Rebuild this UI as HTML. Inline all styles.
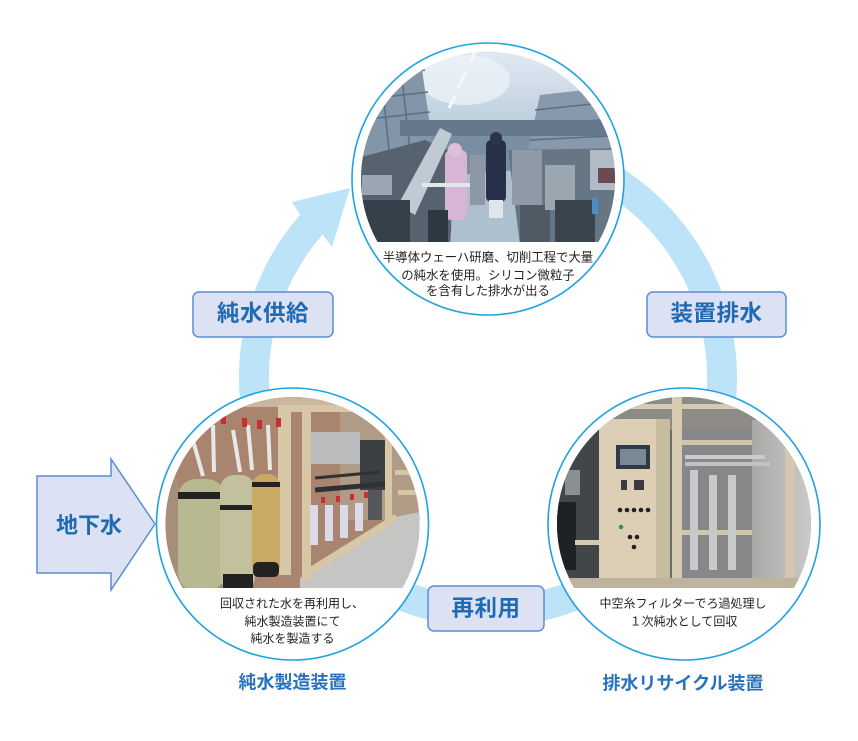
<!DOCTYPE html>
<html><head><meta charset="utf-8">
<style>
html,body{margin:0;padding:0;background:#fff;}
body{width:858px;height:741px;overflow:hidden;}
svg{display:block;}
</style></head>
<body>
<svg width="858" height="741" viewBox="0 0 858 741" xmlns="http://www.w3.org/2000/svg" font-family="'Liberation Sans','Noto Sans CJK JP',sans-serif">
<defs>
  <clipPath id="cTop"><circle cx="488" cy="179" r="127"/></clipPath>
  <clipPath id="rTop"><rect x="350" y="40" width="280" height="202"/></clipPath>
  <clipPath id="cL"><circle cx="292.5" cy="524" r="127"/></clipPath>
  <clipPath id="rL"><rect x="160" y="390" width="270" height="198"/></clipPath>
  <clipPath id="cR"><circle cx="684" cy="524" r="127"/></clipPath>
  <clipPath id="rR"><rect x="550" y="390" width="270" height="198"/></clipPath>
  <linearGradient id="ceil" x1="0" y1="0" x2="0" y2="1">
    <stop offset="0" stop-color="#e6eef6"/><stop offset="1" stop-color="#b9cada"/>
  </linearGradient>
  <linearGradient id="wallR" x1="0" y1="0" x2="1" y2="0">
    <stop offset="0" stop-color="#a9aaa8"/><stop offset="1" stop-color="#cfd0ce"/>
  </linearGradient>
</defs>

<!-- big ring -->
<path d="M311.4,224.5 A234,234 0 1 0 605,175.4" fill="none" stroke="#bce3f7" stroke-width="30"/>
<polygon points="300,214.6 292,202 350,188 332,247 322.7,234.3" fill="#bce3f7"/>

<!-- 地下水 arrow -->
<polygon points="37,476 111,476 111,459 155,524 111,590 111,573 37,573" fill="#dce1f3" stroke="#5b8ed2" stroke-width="1.5"/>
<text x="89" y="533" font-size="22" font-weight="bold" fill="#1e6ab3" text-anchor="middle">地下水</text>

<!-- TOP circle -->
<circle cx="488" cy="179" r="136" fill="#fff" stroke="#1ea2e2" stroke-width="1.6"/>
<g clip-path="url(#cTop)"><g clip-path="url(#rTop)">
  <rect x="350" y="40" width="280" height="205" fill="#7a8ea2"/>
  <polygon points="395,40 600,40 600,100 560,120 510,135 460,135 420,120 395,95" fill="url(#ceil)"/>
  <ellipse cx="465" cy="80" rx="45" ry="25" fill="#eef4f9" opacity="0.7"/>
  <g stroke="#f4f8fb" stroke-width="3"><line x1="478" y1="45" x2="470" y2="62"/><line x1="466" y1="72" x2="458" y2="88"/><line x1="455" y1="96" x2="449" y2="108"/></g>
  <polygon points="355,65 420,55 432,140 355,165" fill="#8396a9"/>
  <g stroke="#5c6e80" stroke-width="1.5"><line x1="360" y1="80" x2="425" y2="70"/><line x1="360" y1="100" x2="428" y2="92"/><line x1="360" y1="120" x2="430" y2="112"/><line x1="380" y1="62" x2="390" y2="160"/><line x1="400" y1="60" x2="410" y2="150"/></g>
  <polygon points="540,95 630,85 630,165 528,150" fill="#8799aa"/>
  <g stroke="#5c6e80" stroke-width="1.5"><line x1="535" y1="110" x2="630" y2="100"/><line x1="530" y1="125" x2="630" y2="118"/><line x1="530" y1="140" x2="630" y2="135"/></g>
  <rect x="400" y="120" width="230" height="16" fill="#66798c"/>
  <polygon points="350,160 425,140 447,150 452,245 350,245" fill="#56636f"/>
  <polygon points="398,205 440,128 452,134 415,215" fill="#c0cad3"/>
  <rect x="360" y="200" width="50" height="45" fill="#36404a"/>
  <rect x="362" y="175" width="30" height="20" fill="#9aa7b3"/>
  <polygon points="455,175 520,170 532,245 450,245" fill="#aebfcd"/>
  <rect x="470" y="155" width="15" height="50" fill="#8c99a5"/>
  <rect x="445" y="150" width="22" height="70" rx="6" fill="#d6b6d4"/>
  <circle cx="455" cy="150" r="7" fill="#dcc0da"/>
  <rect x="422" y="183" width="48" height="4" fill="#e2e8ec"/>
  <rect x="428" y="210" width="20" height="32" fill="#2f3942"/>
  <rect x="486" y="140" width="20" height="62" rx="5" fill="#27314a"/>
  <circle cx="496" cy="138" r="6" fill="#2a3450"/>
  <rect x="489" y="200" width="14" height="18" fill="#dfe5ea"/>
  <polygon points="508,150 630,148 630,245 520,245" fill="#677685"/>
  <rect x="512" y="150" width="30" height="55" fill="#8e9ba6"/>
  <rect x="520" y="205" width="30" height="37" fill="#4f5a65"/>
  <rect x="545" y="165" width="30" height="45" fill="#9aa6b0"/>
  <rect x="555" y="200" width="40" height="45" fill="#3a444e"/>
  <rect x="592" y="198" width="6" height="16" fill="#4a8fc0"/>
  <rect x="590" y="150" width="30" height="40" fill="#b0bbc5"/>
  <rect x="598" y="168" width="20" height="15" fill="#6a4a55"/>
</g></g>
<g font-size="12.4" fill="#231f20" text-anchor="middle">
  <text x="488" y="261.5">半導体ウェーハ研磨、切削工程で大量</text>
  <text x="488" y="279.5">の純水を使用。シリコン微粒子</text>
  <text x="488" y="295">を含有した排水が出る</text>
</g>

<!-- LEFT circle -->
<circle cx="292.5" cy="524" r="136" fill="#fff" stroke="#1ea2e2" stroke-width="1.6"/>
<g clip-path="url(#cL)"><g clip-path="url(#rL)">
  <rect x="160" y="390" width="270" height="200" fill="#a9846f"/>
  <rect x="340" y="395" width="90" height="125" fill="#b09c86"/>
  <rect x="160" y="395" width="270" height="12" fill="#c9b69c"/>
  <polygon points="300,578 395,517 430,510 430,592 300,592" fill="#c5c5c3"/>
  <rect x="310" y="432" width="50" height="32" fill="#b9bbbd"/>
  <rect x="360" y="440" width="30" height="50" fill="#3d4042"/>
  <line x1="315" y1="490" x2="385" y2="484" stroke="#2e3134" stroke-width="5"/>
  <line x1="315" y1="478" x2="380" y2="472" stroke="#2e3134" stroke-width="3"/>
  <rect x="278" y="405" width="13" height="170" fill="#d8c7a7"/>
  <rect x="302" y="405" width="9" height="175" fill="#d8c7a7"/>
  <rect x="278" y="405" width="90" height="7" fill="#d8c7a7"/>
  <rect x="385" y="420" width="7" height="100" fill="#d8c7a7"/>
  <rect x="395" y="470" width="30" height="5" fill="#d8c7a7"/>
  <rect x="398" y="490" width="30" height="5" fill="#d8c7a7"/>
  <polygon points="305,570 395,514 398,520 308,577" fill="#d8c7a7"/>
  <polygon points="160,485 178,478 196,592 172,592" fill="#a58f78"/>
  <g stroke="#e8e8e8" stroke-width="4" fill="none">
    <path d="M190,430 L203,476"/><path d="M213,425 L214,472"/><path d="M233,430 L240,472"/><path d="M248,425 L252,470"/><path d="M268,425 L270,470"/>
  </g>
  <rect x="221" y="415" width="5" height="9" fill="#c63030"/>
  <rect x="242" y="418" width="5" height="9" fill="#c63030"/>
  <rect x="257" y="420" width="5" height="9" fill="#c63030"/>
  <rect x="276" y="418" width="5" height="9" fill="#c63030"/>
  <rect x="178" y="479" width="47" height="112" rx="18" fill="#b8b891"/>
  <rect x="178" y="492" width="47" height="7" fill="#222"/>
  <rect x="220" y="475" width="35" height="116" rx="14" fill="#c3c19d"/>
  <rect x="220" y="505" width="35" height="5" fill="#222"/>
  <rect x="223" y="574" width="30" height="17" fill="#222"/>
  <rect x="252" y="474" width="28" height="103" rx="12" fill="#caa963"/>
  <rect x="252" y="482" width="28" height="5" fill="#222"/>
  <rect x="253" y="562" width="26" height="15" rx="5" fill="#222"/>
  <rect x="310" y="505" width="8" height="40" fill="#dcd9e8"/>
  <rect x="325" y="505" width="8" height="36" fill="#dcd9e8"/>
  <rect x="340" y="505" width="8" height="33" fill="#dcd9e8"/>
  <rect x="355" y="503" width="8" height="28" fill="#dcd9e8"/>
  <g fill="#c63030"><rect x="321" y="497" width="4" height="6"/><rect x="336" y="496" width="4" height="6"/><rect x="350" y="494" width="4" height="6"/><rect x="364" y="492" width="4" height="6"/></g>
  <rect x="368" y="490" width="14" height="30" fill="#55585b"/>
</g></g>
<g font-size="12" fill="#231f20" text-anchor="middle">
  <text x="292" y="607.5">回収された水を再利用し、</text>
  <text x="292.5" y="625.5">純水製造装置にて</text>
  <text x="292.5" y="642.5">純水を製造する</text>
</g>
<text x="292.5" y="688.5" font-size="18" font-weight="bold" fill="#2a72be" text-anchor="middle">純水製造装置</text>

<!-- RIGHT circle -->
<circle cx="684" cy="524" r="136" fill="#fff" stroke="#1ea2e2" stroke-width="1.6"/>
<g clip-path="url(#cR)"><g clip-path="url(#rR)">
  <rect x="550" y="390" width="270" height="200" fill="#6d6e6c"/>
  <rect x="550" y="390" width="270" height="40" fill="#8d8b86"/>
  <rect x="550" y="404" width="270" height="5" fill="#d6cbb0"/>
  <rect x="550" y="430" width="50" height="160" fill="#414648"/>
  <rect x="557" y="502" width="19" height="68" fill="#1f2224"/>
  <rect x="565" y="470" width="15" height="25" fill="#8b8f92"/>
  <rect x="575" y="540" width="25" height="5" fill="#d6cab0"/>
  <rect x="752" y="420" width="68" height="170" fill="url(#wallR)"/>
  <rect x="785" y="420" width="10" height="170" fill="#d3c8af"/>
  <rect x="682" y="430" width="70" height="150" fill="#858788"/>
  <rect x="682" y="440" width="70" height="5" fill="#d2c6aa"/>
  <rect x="682" y="530" width="70" height="5" fill="#d2c6aa"/>
  <rect x="685" y="455" width="80" height="4" fill="#c9cbcd"/>
  <rect x="685" y="462" width="85" height="4" fill="#c0c2c4"/>
  <rect x="690" y="470" width="8" height="100" fill="#c7c9cb"/>
  <rect x="709" y="475" width="8" height="95" fill="#c7c9cb"/>
  <rect x="728" y="475" width="8" height="95" fill="#c7c9cb"/>
  <rect x="599" y="419" width="71" height="160" fill="#dccfb5"/>
  <rect x="656" y="419" width="14" height="160" fill="#c8bc9f"/>
  <rect x="616" y="445" width="34" height="24" fill="#2e3a46"/>
  <rect x="620" y="449" width="26" height="16" fill="#7a8794"/>
  <rect x="621" y="480" width="6" height="10" fill="#3b3b3b"/>
  <rect x="634" y="480" width="10" height="10" fill="#3b3b3b"/>
  <g fill="#222"><circle cx="620" cy="510" r="2.3"/><circle cx="627" cy="510" r="2.3"/><circle cx="634" cy="510" r="2.3"/><circle cx="641" cy="510" r="2.3"/><circle cx="648" cy="510" r="2.3"/><circle cx="630" cy="537" r="2.3"/><circle cx="637" cy="537" r="2.3"/><circle cx="634" cy="547" r="2.3"/></g>
  <circle cx="621" cy="527" r="2.3" fill="#2a9a3a"/>
  <rect x="672" y="390" width="10" height="200" fill="#d6cab0"/>
  <rect x="550" y="578" width="270" height="12" fill="#bdb39f"/>
</g></g>
<g font-size="12" fill="#231f20" text-anchor="middle">
  <text x="683" y="607.5">中空糸フィルターでろ過処理し</text>
  <text x="683.5" y="625.5">１次純水として回収</text>
</g>
<text x="683" y="689.5" font-size="18" font-weight="bold" fill="#2a72be" text-anchor="middle">排水リサイクル装置</text>

<!-- label boxes -->
<rect x="193" y="292" width="140" height="45" rx="6" fill="#dce1f3" stroke="#5b8ed2" stroke-width="1.5"/>
<text x="263" y="321" font-size="22.5" font-weight="bold" fill="#1e6ab3" text-anchor="middle" letter-spacing="0.5">純水供給</text>

<rect x="647" y="292" width="139" height="45" rx="6" fill="#dce1f3" stroke="#5b8ed2" stroke-width="1.5"/>
<text x="716.5" y="321" font-size="22.5" font-weight="bold" fill="#1e6ab3" text-anchor="middle" letter-spacing="0.5">装置排水</text>

<rect x="428" y="586" width="116" height="45" rx="6" fill="#dce1f3" stroke="#5b8ed2" stroke-width="1.5"/>
<text x="486" y="616" font-size="22.5" font-weight="bold" fill="#1e6ab3" text-anchor="middle" letter-spacing="0.5">再利用</text>
</svg>
</body></html>
